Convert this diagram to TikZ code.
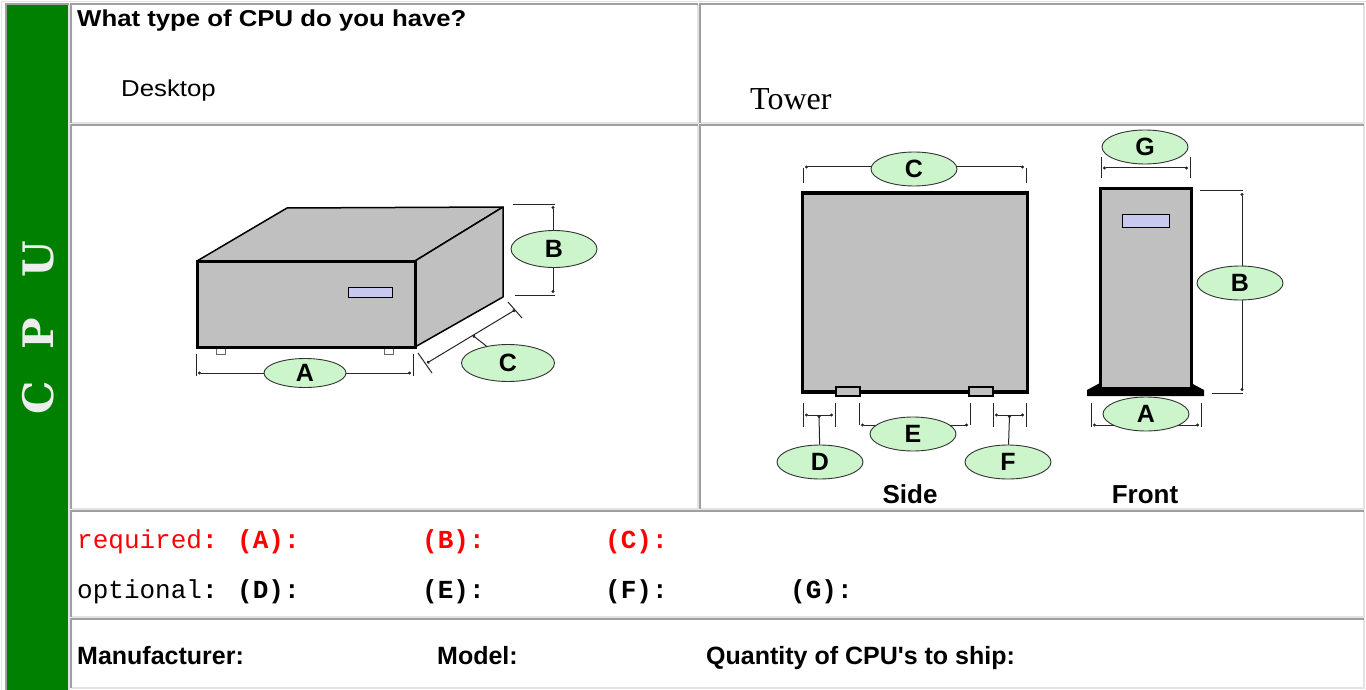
\documentclass[tikz,border=0pt]{standalone}
\usepackage{fontspec}
\setmainfont{Liberation Sans}
\setmonofont{Liberation Mono}
\newfontfamily\timesfont{Liberation Serif}
\newfontfamily\widefont[FakeStretch=1.12]{Liberation Sans}
\newfontfamily\slabfont{DejaVu Serif}
\usepackage{tikz}
\usetikzlibrary{calc,shapes.geometric,arrows.meta}
\definecolor{cpugreen}{RGB}{0,128,0}
\definecolor{tagfill}{RGB}{204,245,204}
\definecolor{casegray}{RGB}{192,192,192}
\definecolor{slotblue}{RGB}{200,200,240}
\definecolor{rimdark}{RGB}{160,160,160}
\definecolor{rimlight}{RGB}{227,227,227}
\def\pxfont#1{\fontsize{#1pt}{#1pt}\selectfont}
\def\dotlen{3pt}

\begin{document}
\begin{tikzpicture}[x=1pt,y=-1pt]
    \tikzstyle{rim dark}=[draw=rimdark, line width=2pt]
    \tikzstyle{rim light}=[draw=rimlight, line width=1.5pt]
    \tikzstyle{case}=[fill=casegray, draw=black, line width=3pt]
    \tikzstyle{case edge}=[fill=casegray, draw=black, line width=1.5pt, line join=round]
    \tikzstyle{slot}=[fill=slotblue, draw=black, line width=1pt]
    \tikzstyle{foot}=[fill=white, draw=black!60, line width=1pt]
    \tikzstyle{tag}=[ellipse, draw=black!80, fill=tagfill, line width=0.9pt, minimum width=86pt, minimum height=34pt, inner sep=0pt, font={\pxfont{25}\bfseries}]
    \tikzstyle{measure}=[draw=black!85, line width=1pt]
    \tikzstyle{measure line}=[measure, {Circle[length=\dotlen]}-{Circle[length=\dotlen]}]
    \tikzstyle{form text}=[anchor=base west, inner sep=0pt]
    \tikzstyle{cpu letter}=[rotate=90, inner sep=0pt, text=white!93!black, font={\slabfont\bfseries\pxfont{42}}]

    \useasboundingbox (0,0) rectangle (1366,690);

    % Draw the table cells
    \fill[white] (0,0) rectangle (1366,690);
    \fill[cpugreen] (6,4) rectangle (69,692);
    \foreach \xa/\ya/\xb/\yb in {6/4/69/692, 71/4/698/123, 700/4/1364/123, 71/125/698/509, 700/125/1364/509, 71/511/1364/617, 71/619/1364/688}
    {
        \draw[rim light] (\xb,\ya) -- (\xb,\yb) -- (\xa,\yb);
        \draw[rim dark] (\xa,\yb) -- (\xa,\ya) -- (\xb,\ya);
    }
    \draw[rim light] (1.5,690) -- (1.5,1.5) -- (1366,1.5);

    % Draw the side title
    \foreach \name / \y in {C/398,P/334,U/259}
        \node[cpu letter] (cpu-\name) at (38,\y) {\name};

    % Draw the top row
    \node[form text, font={\widefont\bfseries\pxfont{23}}] (question) at (77,27) {What type of CPU do you have?};
    \node[form text, font={\widefont\pxfont{23}}] (desktop) at (121,97) {Desktop};
    \node[form text, font={\timesfont\pxfont{32}}] (tower) at (750,110) {Tower};

    % Draw the desktop case
    \coordinate (dFTL) at (197,261);
    \coordinate (dFTR) at (415,261);
    \coordinate (dFBR) at (415,347);
    \coordinate (dBTL) at (287,208);
    \coordinate (dBTR) at (503,207);
    \coordinate (dBBR) at (503,297);
    \filldraw[case edge] (dFTL) -- (dBTL) -- (dBTR) -- (dFTR) -- cycle;
    \filldraw[case edge] (dFTR) -- (dBTR) -- (dBBR) -- (dFBR) -- cycle;
    \foreach \x in {216,384}
        \draw[foot] (\x,348) rectangle (\x+9,354);
    \filldraw[case] (dFTL) rectangle (dFBR);
    \draw[slot] (348,287) rectangle (392,297);

    % Desktop dimensions
    \draw[measure] (196,354) -- (196,376) (413,354) -- (413,376);
    \draw[measure line] (198,373) coordinate (dA-1) -- (411,373) coordinate (dA-2);
    \draw[measure] (513,204) -- (555,204) (515,295) -- (555,295);
    \draw[measure line] (553,206) coordinate (dB-1) -- (553,293) coordinate (dB-2);
    \draw[measure] (418,353) -- (432,373) (508,302) -- (522,318);
    \draw[measure line] (427,363) coordinate (dC-1) -- (515,310) coordinate (dC-2);
    \coordinate (dC-mid) at ($(dC-1)!0.52!(dC-2)$);
    \node[tag, minimum width=82pt, minimum height=29pt] (tag-dA) at (305,373) {A};
    \node[tag, minimum height=37pt] (tag-dB) at (554,249) {B};
    \node[tag, minimum width=93pt, minimum height=37pt] (tag-dC) at (508,363) {C};
    \draw[measure, {Circle[length=\dotlen]}-] (dC-mid) -- (tag-dC);

    % Draw the tower, side view
    \filldraw[case] (802,193) rectangle (1027,392);
    \draw[black, line width=4pt] (802,392) -- (1027,392);
    \foreach \x in {836,969}
        \filldraw[fill=casegray, draw=black, line width=1.2pt] (\x,387) rectangle (\x+24,396);

    % Side view dimensions
    \draw[measure] (803,168) -- (803,183) (1026,168) -- (1026,183);
    \draw[measure line] (805,167) coordinate (sC-1) -- (1024,167) coordinate (sC-2);
    \draw[measure] (803,403) -- (803,427) (835,403) -- (835,427);
    \draw[measure line] (805,415) coordinate (sD-1) -- (833,415) coordinate (sD-2);
    \draw[measure] (859,403) -- (859,425) (970,403) -- (970,425);
    \draw[measure line] (861,425) coordinate (sE-1) -- (968,425) coordinate (sE-2);
    \draw[measure] (993,403) -- (993,427) (1026,403) -- (1026,427);
    \draw[measure line] (995,415) coordinate (sF-1) -- (1024,415) coordinate (sF-2);
    \node[tag] (tag-sC) at (914,169) {C};
    \node[tag] (tag-sE) at (913,434) {E};
    \node[tag] (tag-sD) at (820,462) {D};
    \node[tag] (tag-sF) at (1008,462) {F};
    \draw[measure, {Circle[length=\dotlen]}-] ($(sD-1)!0.5!(sD-2)$) -- (tag-sD);
    \draw[measure, {Circle[length=\dotlen]}-] ($(sF-1)!0.5!(sF-2)$) -- (tag-sF);
    \node[anchor=base, inner sep=0pt, font={\bfseries\pxfont{26}}] (side) at (910,503) {Side};

    % Draw the tower, front view
    \fill[black] (1087,396) -- (1087,390) -- (1100,383) -- (1191,383) -- (1204,390) -- (1204,396) -- cycle;
    \filldraw[case] (1100,189) rectangle (1191,388);
    \draw[slot] (1122,214) rectangle (1169,227);

    % Front view dimensions
    \draw[measure] (1101,157) -- (1101,178) (1190,157) -- (1190,178);
    \draw[measure line] (1103,168) coordinate (fG-1) -- (1188,168) coordinate (fG-2);
    \draw[measure] (1200,191) -- (1243,191) (1212,393) -- (1243,393);
    \draw[measure line] (1242,193) coordinate (fB-1) -- (1242,391) coordinate (fB-2);
    \draw[measure] (1091,403) -- (1091,427) (1201,403) -- (1201,427);
    \draw[measure line] (1093,425) coordinate (fA-1) -- (1199,425) coordinate (fA-2);
    \node[tag] (tag-fG) at (1145,147) {G};
    \node[tag] (tag-fB) at (1240,283) {B};
    \node[tag] (tag-fA) at (1146,414) {A};
    \node[anchor=base, inner sep=0pt, font={\bfseries\pxfont{26}}] (front) at (1145,503) {Front};

    % Draw the size rows
    \node[form text, text=red, font={\ttfamily\pxfont{26}}] (required) at (77,548) {required\textbf{:}};
    \foreach \name / \x in {A/237,B/422,C/605}
        \node[form text, text=red, font={\ttfamily\bfseries\pxfont{26}}] (req-\name) at (\x,548) {(\name):};
    \node[form text, font={\ttfamily\pxfont{26}}] (optional) at (77,598) {optional\textbf{:}};
    \foreach \name / \x in {D/237,E/422,F/605,G/790}
        \node[form text, font={\ttfamily\bfseries\pxfont{26}}] (opt-\name) at (\x,598) {(\name):};

    % Draw the bottom row
    \node[form text, font={\bfseries\pxfont{25}}] (manufacturer) at (77,664) {Manufacturer:};
    \node[form text, font={\bfseries\pxfont{25}}] (model) at (437,664) {Model:};
    \node[form text, font={\bfseries\pxfont{25}}] (quantity) at (706,664) {Quantity of CPU\textquotesingle s to ship:};
\end{tikzpicture}
\end{document}
